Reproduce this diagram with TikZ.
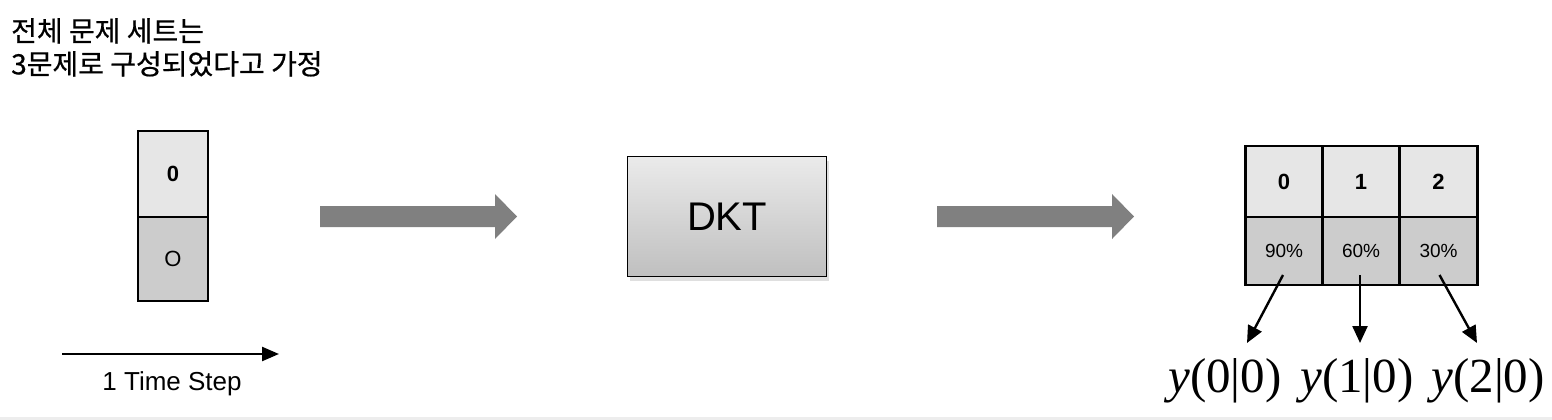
\documentclass[tikz,border=0pt]{standalone}
\usepackage{fontspec}
\setmainfont{Liberation Sans}
\newfontfamily\kofont[FakeBold=0.6]{Noto Sans CJK KR}
\newfontfamily\ylabfont{Liberation Serif}
\usetikzlibrary{shapes,arrows.meta,positioning,calc,shadows}

\definecolor{celltop}{HTML}{E6E6E6}
\definecolor{cellbot}{HTML}{CCCCCC}
\definecolor{flowgray}{HTML}{808080}

\tikzset{
  cell/.style={draw, line width=2.6pt, inner sep=0pt, outer sep=0pt},
  qcell/.style={cell, fill=celltop, font=\fontsize{22}{24}\selectfont\bfseries},
  pcell/.style={cell, fill=cellbot, font=\fontsize{19}{22}\selectfont},
  conn/.style={line width=2.4pt, -{Triangle[length=17pt,width=15pt]}},
  ylab/.style={font=\ylabfont\fontsize{49}{54}\selectfont, inner sep=0pt}
}
\newcommand{\ylabel}[1]{\textit{y}(#1|0)}

\begin{document}
\begin{tikzpicture}[x=1pt, y=-1pt]
\useasboundingbox (0,0) rectangle (1552,420);
\fill[black!7] (0,417) rectangle (1552,420);

% title
\node[anchor=north west, align=left, inner sep=0pt, font=\kofont\fontsize{28}{33}\selectfont]
  (title) at (11,18) {전체 문제 세트는\\3문제로 구성되었다고 가정};

% one time step
\node[qcell, minimum width=70pt, minimum height=86pt] (in0) at (173,174) {0};
\node[pcell, minimum width=70pt, minimum height=84pt, below=0pt of in0,
  font=\fontsize{22}{24}\selectfont] (inO) {O};
\coordinate (ts0) at (62,354);
\coordinate (ts1) at (279,354);
\draw[line width=2.4pt, -{Triangle[length=17pt,width=14pt]}] (ts0) -- (ts1);
\node[font=\fontsize{26}{28}\selectfont] (tslab) at (172,384) {1 Time Step};

% model and the two big arrows
\foreach \sx in {320, 937} {
  \fill[flowgray] (\sx,206) -- ++(175,0) -- ++(0,-12) -- ++(22,22.5)
    -- ++(-22,22.5) -- ++(0,-12) -- ++(-175,0) -- cycle;
}
\node[draw, line width=1.2pt, minimum width=199pt, minimum height=120pt,
  top color=black!8, bottom color=black!25,
  drop shadow={shadow xshift=2pt, shadow yshift=-4pt, opacity=0.25},
  font=\fontsize{40}{44}\selectfont] (dkt) at (727,216.5) {DKT};

% output
\node[qcell, minimum width=77pt, minimum height=71pt] (q0) at (1284,181.5) {0};
\node[qcell, minimum width=77pt, minimum height=71pt, right=0pt of q0] (q1) {1};
\node[qcell, minimum width=78pt, minimum height=71pt, right=0pt of q1] (q2) {2};
\node[pcell, minimum width=77pt, minimum height=68pt, below=0pt of q0] (p0) {90\%};
\node[pcell, minimum width=77pt, minimum height=68pt, below=0pt of q1] (p1) {60\%};
\node[pcell, minimum width=78pt, minimum height=68pt, below=0pt of q2] (p2) {30\%};

\node[ylab] (y0) at (1225,381) {\ylabel{0}};
\node[ylab] (y1) at (1357,381) {\ylabel{1}};
\node[ylab] (y2) at (1488,381) {\ylabel{2}};

\coordinate (e0) at (1247,343);
\coordinate (e1) at (1360,343);
\coordinate (e2) at (1477,343);
\draw[conn] ($(p0.center)+(-1,24)$) -- (e0);
\draw[conn] ($(p1.center)+(-1,24)$) -- (e1);
\draw[conn] ($(p2.center)+(1,24)$) -- (e2);
\end{tikzpicture}
\end{document}
